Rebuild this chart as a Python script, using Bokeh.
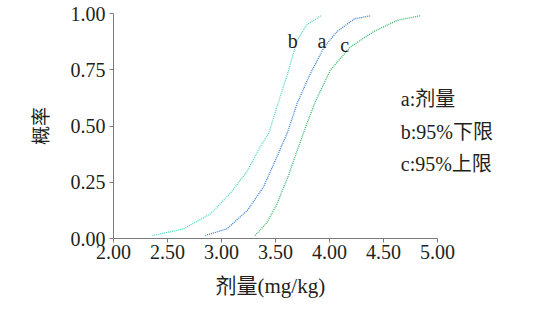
from bokeh.plotting import figure
from bokeh.models import FixedTicker, PrintfTickFormatter, ColumnDataSource, Title
from bokeh.core.properties import value
from bokeh.embed import file_html
from bokeh.resources import INLINE

# Curve a: dose (剂量)
a_x = [2.85, 3.05, 3.24, 3.39, 3.51, 3.61, 3.70, 3.82, 3.95, 4.07, 4.23, 4.38]
a_y = [0.013, 0.043, 0.125, 0.23, 0.36, 0.47, 0.60, 0.73, 0.85, 0.92, 0.976, 0.99]
# Curve b: 95% lower limit
b_x = [2.36, 2.65, 2.90, 3.08, 3.24, 3.36, 3.44, 3.51, 3.61, 3.70, 3.79, 3.92]
b_y = [0.013, 0.043, 0.11, 0.20, 0.30, 0.41, 0.47, 0.58, 0.73, 0.88, 0.95, 0.99]
# Curve c: 95% upper limit
c_x = [3.31, 3.42, 3.51, 3.62, 3.70, 3.79, 3.87, 4.01, 4.19, 4.41, 4.63, 4.84]
c_y = [0.013, 0.07, 0.15, 0.28, 0.39, 0.51, 0.61, 0.75, 0.85, 0.92, 0.97, 0.99]

x_ticks = [2.0, 2.5, 3.0, 3.5, 4.0, 4.5, 5.0]
y_ticks = [0.0, 0.25, 0.5, 0.75, 1.0]

curve_labels = ["b", "a", "c"]
curve_label_x = [3.66, 3.93, 4.14]
curve_label_y = [0.88, 0.88, 0.86]

legend_lines = ["a:剂量", "b:95%下限", "c:95%上限"]
legend_x = [4.66, 4.66, 4.66]
legend_y = [0.62, 0.475, 0.33]

x_title = "剂量(mg/kg)"
y_title = "概率"

SERIF = "Liberation Serif, Noto Sans CJK SC"
TXT = "#231f20"

# frame extends to the right edge so the legend text is not clipped;
# the x axis itself is bounded to 2..5
X_END = 2 + 420 / 108
p = figure(width=538, height=309, x_range=(2, X_END), y_range=(0, 1),
           output_backend="svg", toolbar_location=None,
           min_border_left=113, min_border_right=5,
           min_border_top=13, min_border_bottom=71)
p.outline_line_color = None
p.xgrid.visible = False
p.ygrid.visible = False

p.line(b_x, b_y, line_color="#4fd6c0", line_width=1.3, line_dash="1 1")
p.line(a_x, a_y, line_color="#2f7fd8", line_width=1.3, line_dash="1 1")
p.line(c_x, c_y, line_color="#34b86a", line_width=1.3, line_dash="1 1")

src = ColumnDataSource(dict(x=curve_label_x, y=curve_label_y, t=curve_labels))
p.text(x="x", y="y", text="t", source=src, text_font=value(SERIF),
       text_font_size="20px", text_color=TXT, text_align="center",
       text_baseline="middle")

lsrc = ColumnDataSource(dict(x=legend_x, y=legend_y, t=legend_lines))
p.text(x="x", y="y", text="t", source=lsrc, text_font=value(SERIF),
       text_font_size="20px", text_color=TXT, text_align="left",
       text_baseline="middle")

for ax in (p.xaxis[0], p.yaxis[0]):
    ax.axis_line_color = "#7a7a7a"
    ax.major_tick_line_color = "#7a7a7a"
    ax.major_tick_out = 4
    ax.major_tick_in = 0
    ax.minor_tick_line_color = None
    ax.major_label_text_font = SERIF
    ax.major_label_text_font_size = "20px"
    ax.major_label_text_color = TXT
    ax.axis_label_text_font = SERIF
    ax.axis_label_text_font_size = "19px"
    ax.axis_label_text_font_style = "normal"
    ax.axis_label_text_color = TXT
    ax.formatter = PrintfTickFormatter(format="%.2f")

p.xaxis.bounds = (2, 5)
p.xaxis.ticker = FixedTicker(ticks=x_ticks)
p.yaxis.ticker = FixedTicker(ticks=y_ticks)
p.xaxis.major_label_standoff = 2
p.yaxis.major_label_standoff = 4
p.yaxis.axis_label = y_title
p.yaxis.axis_label_standoff = 16

p.add_layout(Title(text=x_title, align="left", offset=102, standoff=20,
                   text_font=SERIF, text_font_size="21px",
                   text_font_style="normal", text_color=TXT), "below")

open("out.html", "w").write(file_html(p, INLINE))
